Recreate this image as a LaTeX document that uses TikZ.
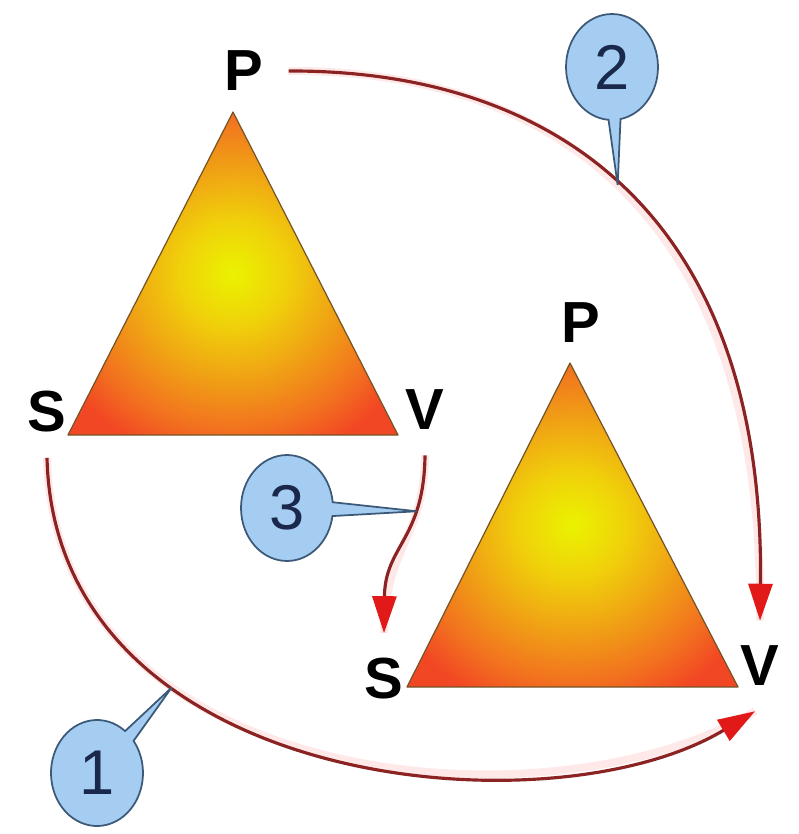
\documentclass[tikz,border=0pt]{standalone}
\usepackage{fontspec}
\usepackage{tikz}
\usetikzlibrary{arrows.meta,shapes.callouts}
\setmainfont{Liberation Sans}
\definecolor{flowred}{RGB}{140,35,35}
\definecolor{tipred}{RGB}{225,25,25}
\definecolor{tagblue}{RGB}{165,205,242}
\definecolor{tagline}{RGB}{60,90,120}
\definecolor{tagtext}{RGB}{25,40,75}
\definecolor{triline}{RGB}{115,85,40}
\pgfdeclareradialshading{trishade}{\pgfpointorigin}{rgb(0bp)=(0.92,0.95,0); rgb(8bp)=(0.94,0.82,0.04); rgb(16bp)=(0.94,0.64,0.08); rgb(24bp)=(0.95,0.45,0.12); rgb(30bp)=(0.95,0.28,0.14); rgb(50bp)=(0.95,0.28,0.14)}

\begin{document}
\begin{tikzpicture}[x=0.02cm, y=-0.02cm,
    lbl/.style={font=\fontsize{33}{33}\selectfont\bfseries, inner sep=0.5cm},
    tri/.style={shading=trishade, draw=triline, line width=0.7pt, line join=round},
    flow/.style={draw=flowred, line width=1.8pt, -{Triangle[length=0.74cm, width=0.48cm, color=tipred]}, preaction={draw=red!9, line width=4.5pt, arrows=-}},
    tag/.style={ellipse callout, draw=tagline, fill=tagblue, line width=1pt, inner sep=0pt, minimum width=1.84cm, minimum height=2.12cm, font=\fontsize{36}{36}\selectfont, text=tagtext}]
    \useasboundingbox (0,0) rectangle (798,834);
    % triangles
    \shadedraw[tri] (233,112) -- (68,435) -- (398,435) -- cycle;
    \shadedraw[tri] (570,363) -- (407,687) -- (738,687) -- cycle;

    % corner labels
    \node[lbl] (P1) at (244,71) {P};
    \node[lbl] (S1) at (47,412) {S};
    \node[lbl] (V1) at (425,410) {V};
    \node[lbl] (P2) at (581,323) {P};
    \node[lbl] (S2) at (384,679) {S};
    \node[lbl] (V2) at (760,666) {V};

    % moves
    \draw[flow] (S1.south) .. controls (55,790) and (550,835) .. ([xshift=-0.1cm]V2.south) coordinate[pos=0.31] (t1);
    \draw[flow] (P1.east) .. controls (560,70) and (765,220) .. (V2.north) coordinate[pos=0.48] (t2);
    \draw[flow] (V1.south) .. controls (424,540) and (385,545) .. (S2.north) coordinate[pos=0.28] (t3);

    % numbered tags
    \node[tag, callout absolute pointer={(t1)}] (C1) at (97,773) {1};
    \node[tag, callout absolute pointer={(t2)}] (C2) at (612,67) {2};
    \node[tag, callout absolute pointer={(t3)}] (C3) at (287,508) {3};
\end{tikzpicture}
\end{document}
